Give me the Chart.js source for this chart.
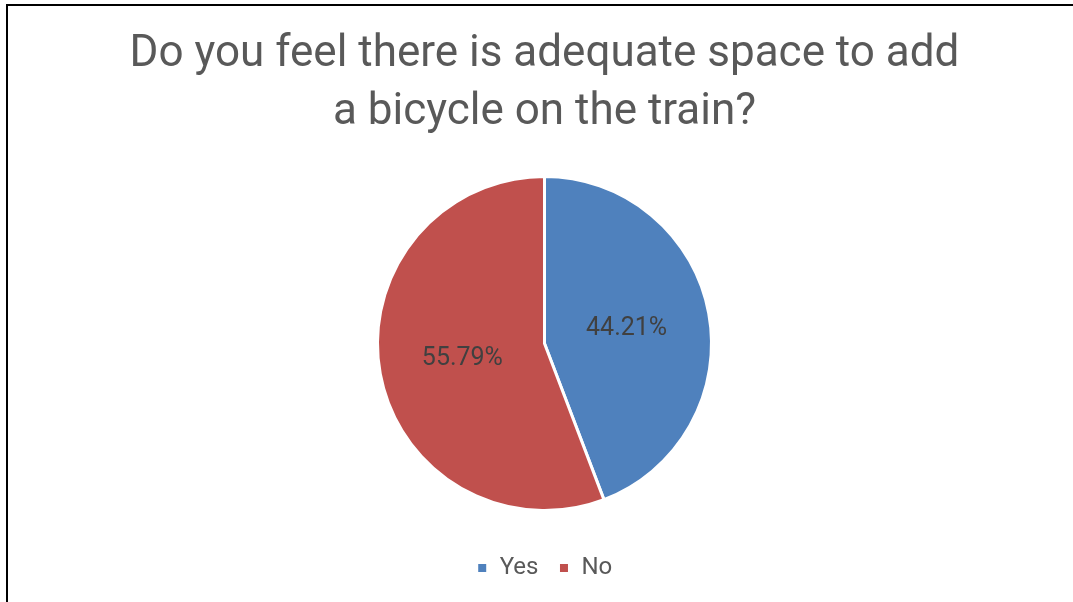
<!DOCTYPE html>
<html>
<head>
<meta charset="utf-8">
<script src="https://cdn.jsdelivr.net/npm/chart.js@4/dist/chart.umd.min.js"></script>
<style>
  html, body { margin: 0; padding: 0; background: #fff; }
  body { width: 1073px; height: 602px; position: relative; overflow: hidden; }
  #frame {
    position: absolute; left: 6px; top: 4px; right: -10px; bottom: -10px;
    border-left: 2px solid #000; border-top: 2px solid #000;
  }
  #wrap { position: absolute; left: 8px; top: 6px; width: 1065px; height: 596px; }
</style>
</head>
<body>
<div id="frame"></div>
<div id="wrap"><canvas id="pie"></canvas></div>
<script>
// 圖表資料
const labels = ["Yes", "No"]
const values = [44.21, 55.79]
const colors = ["#4f81bd", "#c0504d"]
const titleLines = ["Do you feel there is adequate space to add", "a bicycle on the train?"]

// 百分比標籤, 畫在每個扇形的中心點
const sliceLabels = {
  id: "sliceLabels",
  afterDatasetsDraw(chart) {
    const { ctx } = chart
    const meta = chart.getDatasetMeta(0)
    ctx.save()
    ctx.font = "25px Roboto"
    ctx.fillStyle = "#404040"
    ctx.textAlign = "center"
    ctx.textBaseline = "middle"
    meta.data.forEach((arc, i) => {
      const p = arc.getCenterPoint()
      ctx.fillText(values[i].toFixed(2) + "%", p.x, p.y)
    })
    ctx.restore()
  },
}

new Chart(document.getElementById("pie"), {
  type: "pie",
  data: {
    labels,
    datasets: [
      {
        data: values,
        backgroundColor: colors,
        borderColor: "#ffffff",
        borderWidth: 3,
        // 固定圓餅半徑
        radius: 167,
      },
    ],
  },
  options: {
    responsive: true,
    maintainAspectRatio: false,
    animation: false,
    layout: { padding: { left: 8, right: 0, top: 0, bottom: 12 } },
    plugins: {
      title: {
        display: true,
        text: titleLines,
        color: "#595959",
        font: { family: "Roboto", size: 44, weight: "normal", lineHeight: 1.32 },
        padding: { top: 20, bottom: 9 },
      },
      legend: {
        position: "bottom",
        labels: {
          color: "#595959",
          font: { family: "Roboto", size: 24 },
          boxWidth: 11,
          boxHeight: 11,
          padding: 20,
        },
      },
      tooltip: { enabled: false },
    },
  },
  plugins: [sliceLabels],
})
</script>
</body>
</html>
